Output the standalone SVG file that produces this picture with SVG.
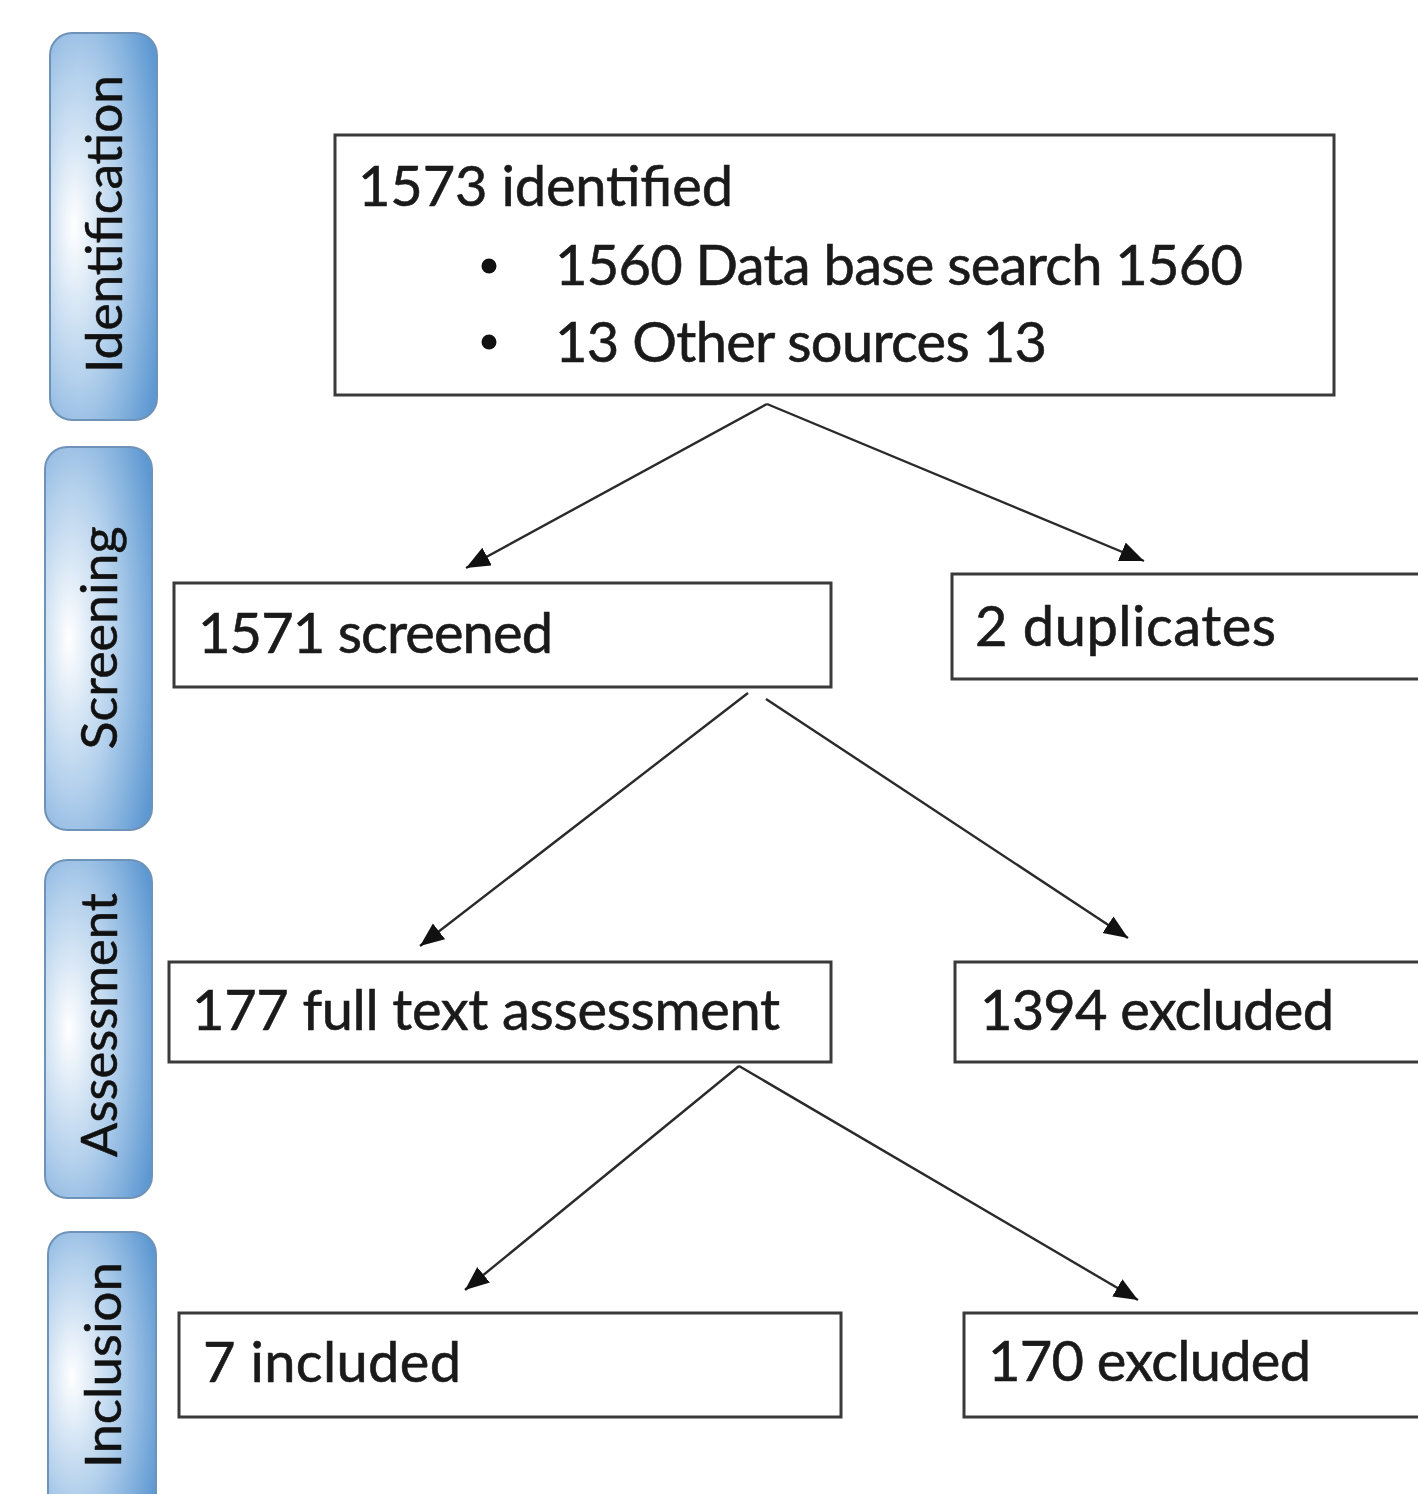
<svg xmlns="http://www.w3.org/2000/svg" width="1418" height="1494" viewBox="0 0 1418 1494">
<style>
.box{fill:#ffffff;stroke:#3a3a3a;stroke-width:3}
.t{font-family:Lato,"Open Sans","Liberation Sans",sans-serif;font-size:56px;fill:#1a1a1a;stroke:#1a1a1a;stroke-width:0.6}
.pill{fill:url(#pg);stroke:#6f93b8;stroke-width:2}
.pt{font-family:Lato,"Open Sans","Liberation Sans",sans-serif;font-size:50px;fill:#111111;stroke:#111111;stroke-width:0.5;text-anchor:middle}
.c{stroke:#2a2a2a;stroke-width:2.4;fill:none;marker-end:url(#ah)}
</style>
<defs>
<radialGradient id="pg" cx="0.3" cy="0.5" r="0.8" fx="0.22" fy="0.5">
<stop offset="0" stop-color="#ffffff"/>
<stop offset="0.5" stop-color="#b3d0ec"/>
<stop offset="1" stop-color="#5d98d2"/>
</radialGradient>
<marker id="ah" markerUnits="userSpaceOnUse" markerWidth="26" markerHeight="22" refX="24" refY="10" orient="auto">
<path d="M0,0 L24,10 L0,20 z" fill="#111111"/>
</marker>
</defs>
<rect width="1418" height="1494" fill="#ffffff"/>

<g id="phase-identification">
<rect class="pill" x="50" y="33" width="107" height="387" rx="22"/>
<text class="pt" transform="translate(122,224) rotate(-90)" textLength="298" lengthAdjust="spacingAndGlyphs">Identification</text>
</g>
<g id="phase-screening">
<rect class="pill" x="45" y="447" width="107" height="383" rx="22"/>
<text class="pt" transform="translate(117,638) rotate(-90)" textLength="223" lengthAdjust="spacingAndGlyphs">Screening</text>
</g>
<g id="phase-assessment">
<rect class="pill" x="45" y="860" width="107" height="338" rx="22"/>
<text class="pt" transform="translate(117,1025) rotate(-90)" textLength="264" lengthAdjust="spacingAndGlyphs">Assessment</text>
</g>
<g id="phase-inclusion">
<rect class="pill" x="48" y="1232" width="108" height="290" rx="22"/>
<text class="pt" transform="translate(121,1365) rotate(-90)" textLength="206" lengthAdjust="spacingAndGlyphs">Inclusion</text>
</g>

<g id="connectors">
<line class="c" x1="767" y1="404" x2="466" y2="568"/>
<line class="c" x1="767" y1="404" x2="1144" y2="561"/>
<line class="c" x1="748" y1="693" x2="420" y2="946"/>
<line class="c" x1="766" y1="699" x2="1128" y2="938"/>
<line class="c" x1="739" y1="1066" x2="465" y2="1290"/>
<line class="c" x1="739" y1="1066" x2="1138" y2="1300"/>
</g>

<g id="identified">
<rect class="box" x="335" y="135" width="999" height="260"/>
<text class="t" x="358" y="206" textLength="375">1573 identified</text>
<circle cx="489" cy="266" r="7.5" fill="#111111"/>
<text class="t" x="555" y="285" textLength="688">1560 Data base search 1560</text>
<circle cx="489" cy="342" r="7.5" fill="#111111"/>
<text class="t" x="555" y="362" textLength="492">13 Other sources 13</text>
</g>
<g id="screened">
<rect class="box" x="174" y="583" width="657" height="104"/>
<text class="t" x="198" y="653" textLength="355">1571 screened</text>
</g>
<g id="duplicates">
<rect class="box" x="952" y="574" width="480" height="105"/>
<text class="t" x="975" y="646" textLength="301">2 duplicates</text>
</g>
<g id="fulltext">
<rect class="box" x="169" y="962" width="662" height="100"/>
<text class="t" x="192" y="1030" textLength="588">177 full text assessment</text>
</g>
<g id="excluded1394">
<rect class="box" x="955" y="962" width="480" height="100"/>
<text class="t" x="980" y="1030" textLength="354">1394 excluded</text>
</g>
<g id="included">
<rect class="box" x="179" y="1313" width="662" height="104"/>
<text class="t" x="203" y="1382" textLength="258">7 included</text>
</g>
<g id="excluded170">
<rect class="box" x="964" y="1313" width="480" height="104"/>
<text class="t" x="988" y="1381" textLength="323">170 excluded</text>
</g>
</svg>
